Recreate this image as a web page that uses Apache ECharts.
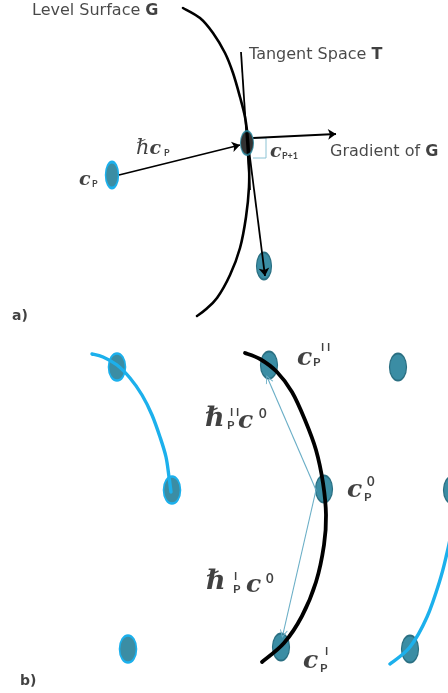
<!DOCTYPE html>
<html>
<head>
<meta charset="utf-8">
<script src="https://cdn.jsdelivr.net/npm/echarts@6/dist/echarts.min.js"></script>
<style>
  html, body { margin: 0; padding: 0; background: #ffffff; }
  #chart { width: 448px; height: 693px; }
</style>
</head>
<body>
<div id="chart"></div>
<script>
// Canvas-like coordinate frame: x to the right, y downwards.

// ---- Panel a) ----
const levelSurface = [[183, 8], [200, 18], [213, 33], [225, 53], [233, 73], [240, 97], [245, 117],
  [248, 140], [249, 160], [249, 187], [246, 217], [240, 248], [230, 275], [217, 298], [205, 310], [197, 316]];
const tangentSpace = [[241, 52], [250, 190]];
const descentStep = [[249, 150], [265, 276]];
const gradientDir = [[253, 138], [336, 134]];
const stepVector = [[119, 175], [240, 145]];
const rightAngle = [[253, 138], [266, 138], [266, 158], [253, 158]];
const cpPoint = [[112, 175]];
const cpNextPoint = [[247, 143]];
const projectedPoint = [[264, 266]];

// ---- Panel b) ----
const leftArc = [[92, 354], [103, 357], [117, 365], [130, 378], [142, 395], [152, 415], [160, 437],
  [166, 457], [169, 477], [171, 492]];
const centreArc = [[245, 353], [260, 359], [277, 372], [292, 392], [305, 420], [316, 450], [323, 483],
  [326, 515], [324, 545], [316, 582], [302, 616], [284, 643], [262, 662]];
const rightArc = [[390, 664], [410, 647], [427, 617], [440, 580], [447, 553], [452, 530]];
const upperStep = [[316, 490], [268, 379]];
const lowerStep = [[316, 490], [283, 634]];
const tealPointsB = [[269, 365], [324, 489], [281, 647], [398, 367], [452, 490], [410, 649]];
const bluePointsB = [[117, 367], [172, 490], [128, 649]];

// ---- Text ----
const textItems = [
  [32, 11, '{cap|Level Surface }{capB|G}'],
  [249, 55, '{cap|Tangent Space }{capB|T}'],
  [330, 152, '{cap|Gradient of }{capB|G}'],
  [12, 316, '{tag|a)}'],
  [20, 681, '{tag|b)}'],
  // ħ c_p
  [136, 149, '{h|ℏ}{c|c}'],
  [164, 153, '{idx|P}'],
  // c_p
  [79, 180, '{c|c}'],
  [92, 184, '{idx|P}'],
  // c_{p+1}
  [270, 152, '{c|c}'],
  [282, 156, '{idx|P+1}'],
  // c''_p
  [297, 358, '{cB|c}'],
  [321, 347, '{sup|I I}'],
  [313, 362, '{idxB|P}'],
  // c^0_p
  [347, 490, '{cB|c}'],
  [367, 482, '{supB|0}'],
  [364, 497, '{idxB|P}'],
  // c'_p
  [303, 661, '{cB|c}'],
  [325, 651, '{sup|I}'],
  [320, 668, '{idxB|P}'],
  // ħ''_p c^0
  [205, 419, '{hB|ℏ}'],
  [230, 412, '{sup|I I}'],
  [227, 425, '{idxB|P}'],
  [238, 421, '{cB|c}'],
  [259, 414, '{supB|0}'],
  // ħ'_p c^0
  [206, 582, '{hB|ℏ}'],
  [234, 576, '{sup|I}'],
  [233, 589, '{idxB|P}'],
  [246, 585, '{cB|c}'],
  [266, 579, '{supB|0}']
];

const TEAL = '#3b8da4';
const TEAL_EDGE = '#2a6f82';
const SKY = '#1cb0ec';
const THIN = '#6aaec6';
const CHEVRON = 'path://M0,12 L6,0 L12,12 L10.6,12 L6,3.2 L1.4,12 Z';

const rich = {
  cap: { fontFamily: 'DejaVu Sans', fontSize: 16, color: '#1a1a1a' },
  capB: { fontFamily: 'DejaVu Sans', fontSize: 16, fontWeight: 'bold', color: '#111' },
  tag: { fontFamily: 'DejaVu Sans', fontSize: 14, fontWeight: 'bold', color: '#111' },
  h: { fontFamily: 'DejaVu Serif', fontStyle: 'italic', fontSize: 21, color: '#111' },
  hB: { fontFamily: 'DejaVu Serif', fontStyle: 'italic', fontWeight: 'bold', fontSize: 27, color: '#111' },
  c: { fontFamily: 'DejaVu Serif', fontStyle: 'italic', fontWeight: 'bold', fontSize: 19, color: '#111' },
  cB: { fontFamily: 'DejaVu Serif', fontStyle: 'italic', fontWeight: 'bold', fontSize: 25, color: '#111' },
  idx: { fontFamily: 'Lato', fontWeight: 'bold', fontSize: 9, color: '#111' },
  idxB: { fontFamily: 'Lato', fontWeight: 'bold', fontSize: 12, color: '#111' },
  sup: { fontFamily: 'Lato', fontWeight: 'bold', fontSize: 11, color: '#111' },
  supB: { fontFamily: 'Lato', fontWeight: 'bold', fontSize: 13, color: '#111' }
};

// Smooth curve through the given points (Catmull-Rom spline as cubic Béziers),
// mapped to pixels with the grid's own axes.
function curve(data, color, width) {
  return {
    type: 'custom', coordinateSystem: 'cartesian2d', data: data, z: 3, silent: true,
    renderItem: function (params, api) {
      if (params.dataIndex !== 0) return null;
      const p = data.map(function (d) { return api.coord(d); });
      const n = p.length;
      let d = 'M' + p[0][0] + ',' + p[0][1];
      for (let i = 0; i < n - 1; i++) {
        const p0 = p[Math.max(i - 1, 0)], p1 = p[i], p2 = p[i + 1], p3 = p[Math.min(i + 2, n - 1)];
        const c1x = p1[0] + (p2[0] - p0[0]) / 6, c1y = p1[1] + (p2[1] - p0[1]) / 6;
        const c2x = p2[0] - (p3[0] - p1[0]) / 6, c2y = p2[1] - (p3[1] - p1[1]) / 6;
        d += ' C' + c1x + ',' + c1y + ' ' + c2x + ',' + c2y + ' ' + p2[0] + ',' + p2[1];
      }
      return {
        type: 'path',
        shape: { pathData: d },
        style: { fill: 'none', stroke: color, lineWidth: width, lineCap: 'round', lineJoin: 'round' }
      };
    }
  };
}

function segment(coords, color, width, symbol, size) {
  return {
    type: 'lines', coordinateSystem: 'cartesian2d', z: 4,
    symbol: ['none', symbol], symbolSize: size,
    lineStyle: { color: color, width: width, opacity: 1, curveness: 0 },
    itemStyle: { color: color },
    data: [{ coords: coords }]
  };
}

function points(data, size, fill, edge, edgeWidth) {
  return {
    type: 'scatter', data: data, symbol: 'circle', symbolSize: size, clip: false, z: 2,
    itemStyle: { color: fill, borderColor: edge, borderWidth: edgeWidth, opacity: 1 }
  };
}

const chart = echarts.init(document.getElementById('chart'), null, { renderer: 'canvas' });

chart.setOption({
  backgroundColor: '#ffffff',
  animation: false,
  grid: { left: 0, right: 0, top: 0, bottom: 0 },
  xAxis: { type: 'value', min: 0, max: 448, show: false },
  yAxis: { type: 'value', min: 0, max: 693, inverse: true, show: false },
  series: [
    // panel a
    points(cpPoint, [13, 26], TEAL, SKY, 2),
    points(projectedPoint, [15, 27], TEAL, TEAL_EDGE, 1.5),
    curve(levelSurface, '#000000', 2.6),
    {
      type: 'line', data: rightAngle, symbol: 'none', z: 1,
      lineStyle: { color: '#8cc3d4', width: 1 }
    },
    segment(tangentSpace, '#000000', 1.8, 'none', 0),
    segment(descentStep, '#000000', 1.8, 'arrow', 8),
    segment(gradientDir, '#000000', 1.8, 'arrow', 8),
    segment(stepVector, '#000000', 1.8, 'arrow', 8),
    {
      type: 'scatter', data: cpNextPoint, symbol: 'circle', symbolSize: [13, 24], z: 5,
      itemStyle: { color: '#000000', borderColor: '#2b8aa0', borderWidth: 1.5 }
    },
    // panel b
    points(tealPointsB, [17, 27], TEAL, TEAL_EDGE, 1.5),
    points(bluePointsB, [17, 27], TEAL, SKY, 2),
    curve(leftArc, SKY, 3.4),
    curve(rightArc, SKY, 3.4),
    curve(centreArc, '#000000', 3.8),
    segment(upperStep, THIN, 1.1, CHEVRON, 8),
    segment(lowerStep, THIN, 1.1, CHEVRON, 8),
    // text
    {
      type: 'scatter', symbolSize: 0, z: 10, silent: true,
      data: textItems.map(function (t) {
        return {
          value: [t[0], t[1]],
          label: {
            show: true, position: 'inside', align: 'left', verticalAlign: 'middle',
            formatter: t[2], rich: rich
          }
        };
      })
    }
  ]
});
</script>
</body>
</html>
